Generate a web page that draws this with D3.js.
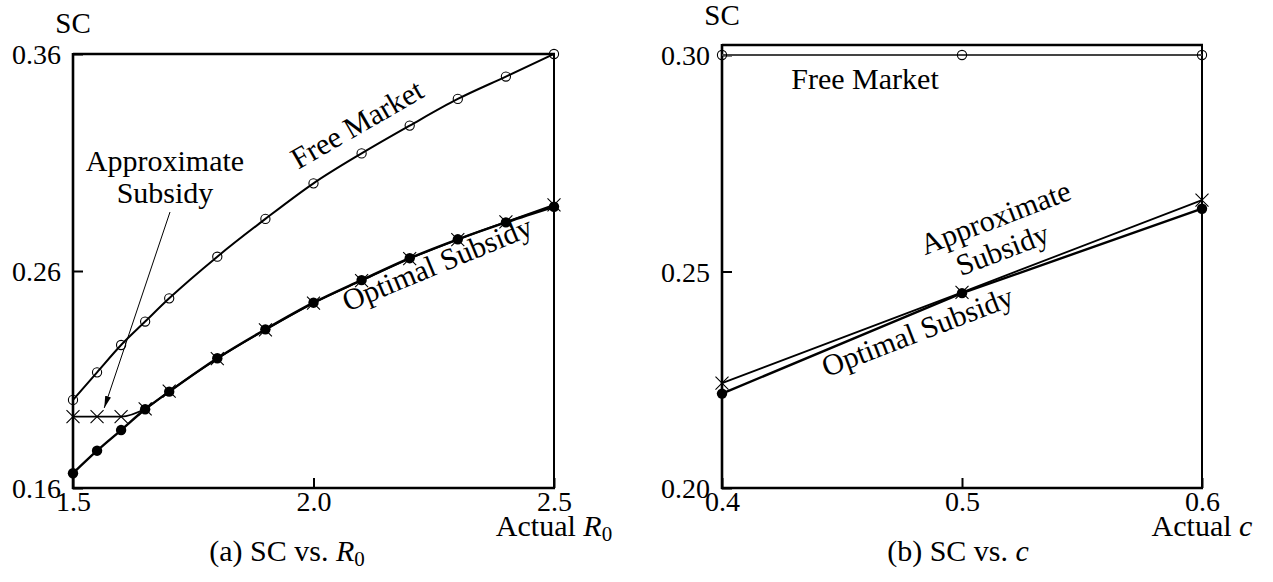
<!DOCTYPE html>
<html>
<head>
<meta charset="utf-8">
<script src="https://cdn.jsdelivr.net/npm/d3@7/dist/d3.min.js"></script>
<style>
  html, body { margin: 0; padding: 0; background: #fff; }
  svg { display: block; }
  text { font-family: "Liberation Serif", "Times New Roman", serif; fill: #000; }
</style>
</head>
<body>
<svg id="chart" width="1273" height="582"></svg>
<script>
// ---------------- data ----------------
// Panel (a): SC vs. actual R0
const r0Values        = [1.5, 1.55, 1.6, 1.65, 1.7, 1.8, 1.9, 2.0, 2.1, 2.2, 2.3, 2.4, 2.5];
const freeMarketA     = [0.2006, 0.2133, 0.2259, 0.2367, 0.2474, 0.2666, 0.2840, 0.3004, 0.3142, 0.3270, 0.3393, 0.3496, 0.3600];
const optimalA        = [0.1668, 0.1772, 0.1867, 0.1963, 0.2044, 0.2198, 0.2331, 0.2454, 0.2558, 0.2659, 0.2746, 0.2824, 0.2896];
const approximateA    = [0.1929, 0.1929, 0.1929, 0.1965, 0.2046, 0.2196, 0.2329, 0.2452, 0.2556, 0.2657, 0.2745, 0.2826, 0.2905];
const xTicksA         = [1.5, 2.0, 2.5];
const yTicksA         = [0.16, 0.26, 0.36];

// Panel (b): SC vs. actual c
const cValues         = [0.4, 0.5, 0.6];
const freeMarketB     = [0.30, 0.30, 0.30];
const optimalB        = [0.2218, 0.2450, 0.2645];
const approximateB    = [0.2242, 0.2452, 0.2665];
const xTicksB         = [0.4, 0.5, 0.6];
const yTicksB         = [0.20, 0.25, 0.30];

// ---------------- drawing ----------------
const svg = d3.select("#chart");
const FS = 28;   // numbers
const WS = 30;   // words

svg.append("defs").append("marker")
  .attr("id", "arrow")
  .attr("markerUnits", "userSpaceOnUse")
  .attr("viewBox", "0 0 12 6")
  .attr("refX", 12).attr("refY", 3)
  .attr("markerWidth", 12).attr("markerHeight", 6)
  .attr("orient", "auto")
  .append("path").attr("d", "M0,0 L12,3 L0,6 Z").attr("fill", "#000");

function drawPanel(cfg) {
  const g = svg.append("g");
  const x = d3.scaleLinear().domain(cfg.xDomain).range([cfg.left, cfg.right]);
  const y = d3.scaleLinear().domain(cfg.yDomain).range([cfg.bottom, cfg.top]);

  // frame top + right
  g.append("line").attr("x1", cfg.left).attr("x2", cfg.right + 1)
    .attr("y1", cfg.frameTop).attr("y2", cfg.frameTop)
    .attr("stroke", "#000").attr("stroke-width", 2.4);
  g.append("line").attr("x1", cfg.right).attr("x2", cfg.right)
    .attr("y1", cfg.frameTop).attr("y2", cfg.bottom)
    .attr("stroke", "#000").attr("stroke-width", 2);

  // axes
  const ax = d3.axisBottom(x).tickValues(cfg.xTicks).tickSizeInner(-10).tickSizeOuter(0)
    .tickPadding(3).tickFormat(d3.format(".1f"));
  const gx = g.append("g").attr("transform", `translate(0,${cfg.bottom})`).call(ax);
  gx.select(".domain").attr("stroke-width", 2.6).attr("d", `M${cfg.left - 1},0H${cfg.right + 1}`);
  gx.selectAll(".tick line").attr("stroke-width", 2);
  gx.selectAll(".tick text").attr("font-size", FS).attr("font-family", "Liberation Serif");

  const ay = d3.axisLeft(y).tickValues(cfg.yTicks).tickSizeInner(-10).tickSizeOuter(0)
    .tickPadding(12).tickFormat(d3.format(".2f"));
  const gy = g.append("g").attr("transform", `translate(${cfg.left},0)`).call(ay);
  gy.select(".domain").attr("stroke-width", 2.6).attr("d", `M0,${cfg.frameTop - 1}V${cfg.bottom + 1}`);
  gy.selectAll(".tick line").attr("stroke-width", 2);
  gy.selectAll(".tick text").attr("font-size", FS).attr("font-family", "Liberation Serif").attr("dy", "0.34em");

  // y title
  g.append("text").attr("x", cfg.left).attr("y", cfg.titleY)
    .attr("text-anchor", "middle").attr("font-size", 29).text("SC");

  // x title
  const xt = g.append("text").attr("x", cfg.right).attr("y", 536)
    .attr("text-anchor", "middle").attr("font-size", WS);
  xt.append("tspan").text("Actual ");
  xt.append("tspan").attr("font-style", "italic").text(cfg.xVar);
  if (cfg.xSub) xt.append("tspan").attr("font-size", 21).attr("dy", 5).text(cfg.xSub);

  // caption
  const cap = g.append("text").attr("x", cfg.captionX).attr("y", 561)
    .attr("text-anchor", "middle").attr("font-size", WS);
  cap.append("tspan").text(cfg.captionLead);
  cap.append("tspan").attr("font-style", "italic").text(cfg.xVar);
  if (cfg.xSub) cap.append("tspan").attr("font-size", 21).attr("dy", 5).text(cfg.xSub);

  const line = d3.line().x(d => x(d[0])).y(d => y(d[1])).curve(cfg.curve);
  const zip = vals => cfg.xs.map((v, i) => [v, vals[i]]);

  // lines
  g.append("path").datum(zip(cfg.free)).attr("d", line)
    .attr("fill", "none").attr("stroke", cfg.freeColor).attr("stroke-width", cfg.freeWidth);
  g.append("path").datum(zip(cfg.approx)).attr("d", line)
    .attr("fill", "none").attr("stroke", "#000").attr("stroke-width", 1.8);
  g.append("path").datum(zip(cfg.opt)).attr("d", line)
    .attr("fill", "none").attr("stroke", "#000").attr("stroke-width", 2.4);

  // markers
  g.selectAll(".fm").data(zip(cfg.free)).join("circle")
    .attr("cx", d => x(d[0])).attr("cy", d => y(d[1])).attr("r", 4.6)
    .attr("fill", "none").attr("stroke", "#000").attr("stroke-width", 1.1);
  g.selectAll(".op").data(zip(cfg.opt)).join("circle")
    .attr("cx", d => x(d[0])).attr("cy", d => y(d[1])).attr("r", 5.2)
    .attr("fill", "#000");
  const s = 6.5;
  g.selectAll(".ap").data(zip(cfg.approx)).join("path")
    .attr("d", d => { const px = x(d[0]), py = y(d[1]);
      return `M${px - s},${py - s}L${px + s},${py + s}M${px - s},${py + s}L${px + s},${py - s}`; })
    .attr("stroke", "#000").attr("stroke-width", 1.1).attr("fill", "none");

  return { g, x, y };
}

// Panel (a)
const A = drawPanel({
  left: 73, right: 554, top: 54, bottom: 488, frameTop: 54, titleY: 33,
  xDomain: [1.5, 2.5], yDomain: [0.16, 0.36],
  xTicks: xTicksA, yTicks: yTicksA,
  xs: r0Values, free: freeMarketA, opt: optimalA, approx: approximateA,
  freeColor: "#000", freeWidth: 2, curve: d3.curveMonotoneX,
  xVar: "R", xSub: "0", captionLead: "(a) SC vs. ", captionX: 287
});
A.g.append("text").attr("font-size", WS)
  .attr("transform", "translate(362,133) rotate(-30)").attr("text-anchor", "middle").text("Free Market");
A.g.append("text").attr("font-size", WS)
  .attr("transform", "translate(441,273) rotate(-22.5)").attr("text-anchor", "middle").text("Optimal Subsidy");
A.g.append("text").attr("font-size", WS).attr("x", 165).attr("y", 171).attr("text-anchor", "middle").text("Approximate");
A.g.append("text").attr("font-size", WS).attr("x", 165).attr("y", 203).attr("text-anchor", "middle").text("Subsidy");
A.g.append("line").attr("x1", 170).attr("y1", 212)
  .attr("x2", A.x(1.565)).attr("y2", A.y(0.1969))
  .attr("stroke", "#000").attr("stroke-width", 1).attr("marker-end", "url(#arrow)");

// Panel (b)
const B = drawPanel({
  left: 722, right: 1202, top: 55, bottom: 488, frameTop: 45, titleY: 25,
  xDomain: [0.4, 0.6], yDomain: [0.20, 0.30],
  xTicks: xTicksB, yTicks: yTicksB,
  xs: cValues, free: freeMarketB, opt: optimalB, approx: approximateB,
  freeColor: "#444", freeWidth: 2, curve: d3.curveLinear,
  xVar: "c", xSub: null, captionLead: "(b) SC vs. ", captionX: 958
});
B.g.append("text").attr("font-size", WS).attr("x", 865).attr("y", 89).attr("text-anchor", "middle").text("Free Market");
B.g.append("text").attr("font-size", WS)
  .attr("transform", "translate(999,227) rotate(-21)").attr("text-anchor", "middle").text("Approximate");
B.g.append("text").attr("font-size", WS)
  .attr("transform", "translate(1006,259) rotate(-21)").attr("text-anchor", "middle").text("Subsidy");
B.g.append("text").attr("font-size", WS)
  .attr("transform", "translate(921,341) rotate(-21)").attr("text-anchor", "middle").text("Optimal Subsidy");
</script>
</body>
</html>
